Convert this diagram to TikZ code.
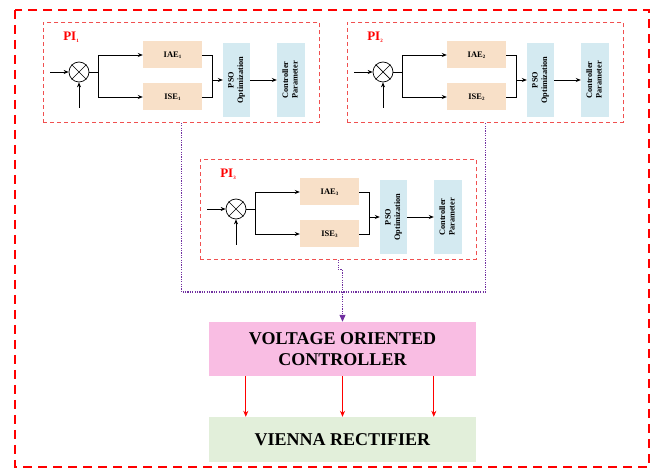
\documentclass[tikz,border=0pt]{standalone}
\usepackage{fontspec}
\setmainfont{Liberation Serif}
\usetikzlibrary{arrows.meta}
\definecolor{peach}{HTML}{F8E0C8}
\definecolor{lblue}{HTML}{D4EAF1}
\definecolor{vocpink}{HTML}{F9BDE3}
\definecolor{vgreen}{HTML}{E2EFDA}
\definecolor{purp}{HTML}{7030A0}
\definecolor{fred}{HTML}{F05050}
\newcommand\tinysub[1]{\raisebox{-0.35ex}{\fontsize{5}{5}\selectfont #1}}
\tikzset{
 outerframe/.style={draw=red, line width=1.3pt, dash pattern=on 9pt off 6pt},
 piframe/.style={draw=fred, line width=0.8pt, dash pattern=on 4pt off 3pt, minimum width=276pt, minimum height=100pt, anchor=north west, inner sep=0pt},
 pilabel/.style={text=red, font=\bfseries\fontsize{13}{13}\selectfont},
 sumnode/.style={circle, draw, line width=0.7pt, minimum size=20pt, inner sep=0pt},
 errbox/.style={fill=peach, minimum width=59pt, minimum height=27pt, inner sep=0pt, font=\bfseries\fontsize{8.5}{8.5}\selectfont},
 vbox/.style={fill=lblue, minimum width=27pt, minimum height=74pt, inner sep=0pt, font=\bfseries\fontsize{8.3}{9.5}\selectfont},
 sig/.style={-{Stealth[length=5pt,width=4pt]}, line width=0.7pt},
 wire/.style={line width=0.7pt},
 bigbox/.style={minimum width=267pt, inner sep=0pt, align=center, font=\bfseries\fontsize{18}{21}\selectfont},
 purpline/.style={color=purp, line width=1.1pt, dash pattern=on 1.2pt off 1.2pt},
 redarrow/.style={draw=red, line width=0.7pt, -{Stealth[length=6pt,width=5pt]}},
}
\newcommand\PIblock[3]{%
\begin{scope}[shift={(#1,#2)}]
\node[piframe] (pi#3) at (0,0) {};
\node[pilabel] (lab#3) at (28,15) {PI\tinysub{#3}};
\node[sumnode] (s#3) at (36,50) {};
\draw[wire] (s#3.north west) -- (s#3.south east) (s#3.north east) -- (s#3.south west);
\coordinate (in#3) at (7,50);
\coordinate (inb#3) at (36,86);
\coordinate (j#3) at (55,50);
\coordinate (m#3) at (169,58);
\node[errbox] (iae#3) at (129.5,33) {IAE\tinysub{#3}};
\node[errbox] (ise#3) at (129.5,75) {ISE\tinysub{#3}};
\node[vbox] (pso#3) at (193.5,58) {\rotatebox{90}{\begin{tabular}{@{}c@{}}PSO\\Optimization\end{tabular}}};
\node[vbox, minimum width=28pt] (cp#3) at (248,58) {\rotatebox{90}{\begin{tabular}{@{}c@{}}Controller\\Parameter\end{tabular}}};
\draw[sig] (in#3) -- (s#3.west);
\draw[sig] (inb#3) -- (s#3.south);
\draw[wire] (s#3.east) -- (j#3);
\draw[sig] (j#3) |- (iae#3.west);
\draw[sig] (j#3) |- (ise#3.west);
\draw[wire] (iae#3.east) -| (m#3);
\draw[wire] (ise#3.east) -| (m#3);
\draw[sig] (m#3) -- (pso#3.west);
\draw[sig] (pso#3.east) -- (cp#3.west);
\end{scope}}
\begin{document}
\begin{tikzpicture}[x=1pt,y=-1pt]
\useasboundingbox (0,0) rectangle (654,470);
\draw[outerframe] (15,10) rectangle (649,467);
\PIblock{43}{22}{1}
\PIblock{347}{22}{2}
\PIblock{200}{159}{3}
\node[bigbox, fill=vocpink, minimum height=54pt] (voc) at (342.5,349) {VOLTAGE ORIENTED\\CONTROLLER};
\node[bigbox, fill=vgreen, minimum height=45pt] (vr) at (342.5,439.5) {VIENNA RECTIFIER};
\coordinate (hb) at (343,292);
\draw[purpline] (pi1.south) |- (hb) -| (pi2.south);
\draw[purpline, -{Triangle[length=7pt,width=6pt]}] (pi3.south) -- ++(0,10) -| (voc.north);
\draw[redarrow] ([xshift=37pt]voc.south west) -- ([xshift=37pt]vr.north west);
\draw[redarrow] (voc.south) -- (vr.north);
\draw[redarrow] ([xshift=225pt]voc.south west) -- ([xshift=225pt]vr.north west);
\end{tikzpicture}
\end{document}
